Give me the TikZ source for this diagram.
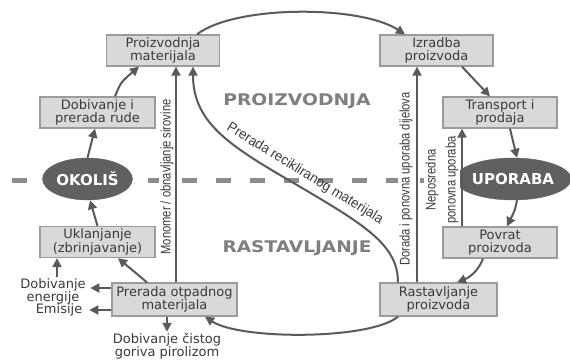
\documentclass[tikz,border=0pt]{standalone}
\usepackage{fontspec}
\setmainfont{DejaVu Sans}
\newfontfamily\labfont{Liberation Sans}
\usetikzlibrary{arrows.meta,shapes.geometric}
\definecolor{boxfill}{HTML}{D9D9D9}
\definecolor{boxline}{HTML}{9B9B9B}
\definecolor{ellfill}{HTML}{606060}
\definecolor{arrc}{HTML}{5A5A5A}
\definecolor{txt}{HTML}{3A3A3A}
\definecolor{dashc}{HTML}{8C8C8C}
\definecolor{bigtxt}{HTML}{7F7F7F}
\begin{document}
\begin{tikzpicture}[x=1pt,y=-1pt,
  box/.style={draw=boxline,fill=boxfill,line width=1.3pt,minimum width=113pt,minimum height=31pt,
    inner sep=0pt,align=center,text=txt,font=\fontsize{13}{13.5}\selectfont},
  ell/.style={ellipse,fill=ellfill,draw=ellfill,minimum width=90pt,minimum height=42pt,inner sep=0pt,
    text=white,font=\bfseries\fontsize{15}{15}\selectfont},
  arr/.style={draw=arrc,line width=2pt,-{Triangle[length=9pt,width=9pt]}},
  plain/.style={text=txt,align=center,inner sep=1pt,font=\fontsize{13}{13}\selectfont},
  lbl/.style={text=txt,fill=white,inner sep=1pt,align=center,font=\labfont\fontsize{14}{20}\selectfont},
  big/.style={text=bigtxt,font=\bfseries\fontsize{16}{16}\selectfont}
]
\useasboundingbox[fill=white] (0,0) rectangle (570,359);

% dashed divider
\draw[dashc,line width=5pt,dash pattern=on 15pt off 19pt] (12,180) -- (470,180);

% boxes
\node[box] (pm) at (163,50.5) {Proizvodnja\\materijala};
\node[box,minimum width=115pt] (dr) at (97.5,112.5) {Dobivanje i\\prerada rude};
\node[box] (ip) at (436.5,50.5) {Izradba\\proizvoda};
\node[box,minimum width=114pt] (tp) at (500,112.5) {Transport i\\prodaja};
\node[box,minimum width=115pt] (uk) at (97.5,242) {Uklanjanje\\(zbrinjavanje)};
\node[box,minimum width=125pt,minimum height=33pt] (po) at (174.5,299.5) {Prerada otpadnog\\materijala};
\node[box,minimum width=114pt] (pp) at (500,242.5) {Povrat\\proizvoda};
\node[box,minimum width=117pt,minimum height=33pt] (rp) at (438.5,299.5) {Rastavljanje\\proizvoda};

% ellipses
\node[ell] (ok) at (87.5,179) {OKOLIŠ};
\node[ell] (up) at (513,179) {UPORABA};

% region titles
\node[big] (prz) at (297,101.5) {\scalebox{1.17}[1]{PROIZVODNJA}};
\node[big] (ras) at (297,248) {\scalebox{1.16}[1]{RASTAVLJANJE}};

% free texts
\node[plain] (de) at (53,291) {Dobivanje\\energije};
\node[plain] (em) at (59,310) {Emisije};
\node[plain] (gp) at (167,346) {Dobivanje čistog\\goriva pirolizom};

% rotated labels
\node[lbl,rotate=90] (mo) at (167,177) {\scalebox{0.8}[1]{Monomer / obnavljanje sirovine}};
\node[lbl,rotate=90] (do) at (406,179) {\scalebox{0.8}[1]{Dorada i ponovna uporaba dijelova}};
\node[lbl,rotate=90] (ne) at (442,180) {\scalebox{0.8}[1]{Neposredna}\\\scalebox{0.8}[1]{ponovna uporaba}};
\node[text=txt,inner sep=0pt,rotate=-31.5,font=\labfont\fontsize{14}{14}\selectfont] (cl) at (305,174)
  {\scalebox{0.95}[1]{Prerada recikliranog materijala}};

% connectors
\draw[arr] ([xshift=34pt]pm.north) .. controls (235,5) and (360,5) .. ([xshift=-31.5pt]ip.north);
\draw[arr] ([xshift=25.5pt]ip.south) -- ([xshift=-10pt]tp.north);
\draw[arr] ([xshift=10pt]tp.south) -- ([xshift=4pt]up.north);
\draw[arr] ([xshift=4pt]up.south) .. controls (515,210) .. ([xshift=7pt]pp.north);
\draw[arr] ([xshift=-17pt]pp.south) .. controls (478,272) and (468,278) .. ([xshift=18.5pt]rp.north);
\draw[arr] ([xshift=-40.5pt]rp.south) .. controls (370,340) and (240,340) .. ([xshift=30.5pt]po.south);
\draw[arr] ([xshift=-27.5pt]po.north) -- ([xshift=20.5pt]uk.south);
\draw[arr] (uk.north) -- ([xshift=2.5pt]ok.south);
\draw[arr] (ok.north) -- ([xshift=-2.5pt]dr.south);
\draw[arr] ([xshift=17.5pt]dr.north) .. controls (121,82) .. ([xshift=-24pt]pm.south);
\draw[arr] ([yshift=11.5pt]po.west) -- ([yshift=11.5pt,xshift=-21pt]po.west);
\draw[arr] ([yshift=-10.5pt]po.west) -- ([yshift=-10.5pt,xshift=-22pt]po.west);
\draw[arr] ([xshift=4pt]de.north) -- ([xshift=-40.5pt]uk.south);
\draw[arr] ([xshift=-7.5pt]po.south) -- (gp.north);

% vertical return lines
\draw[arr] ([xshift=1.5pt]po.north) -- ([xshift=13pt]pm.south);
\draw[arr] ([xshift=-40.5pt]rp.north) .. controls (398,245) and (365,225) .. (297,185)
  .. controls (234,148) and (193,125) .. ([xshift=30pt]pm.south);
\draw[arr] ([xshift=-21.5pt]rp.north) -- ([xshift=-19.5pt]ip.south);
\draw[arr] ([xshift=-38pt]pp.north) -- ([xshift=-38pt]tp.south);
\end{tikzpicture}
\end{document}
